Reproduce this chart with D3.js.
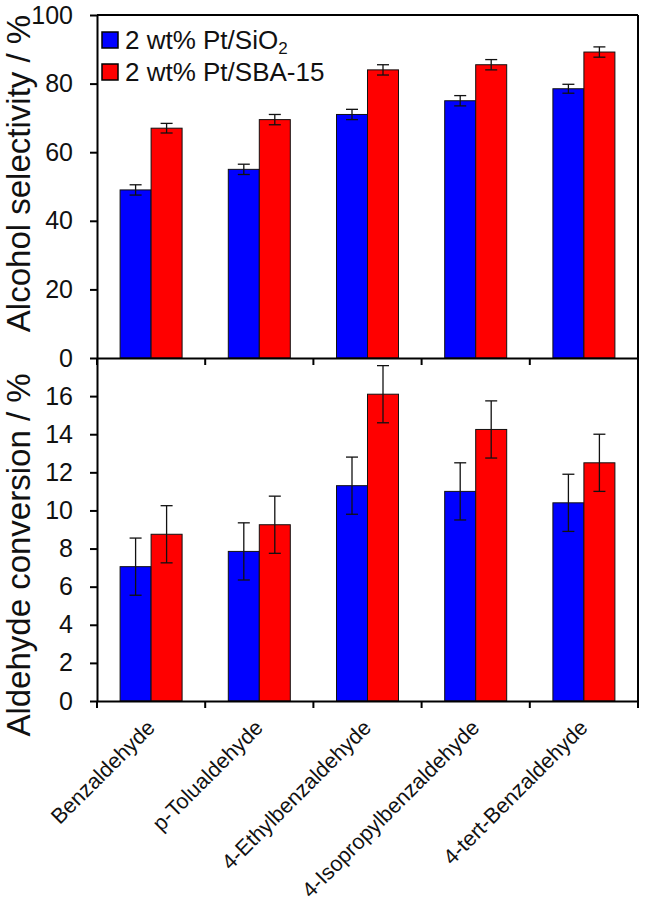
<!DOCTYPE html>
<html><head><meta charset="utf-8">
<script src="https://cdn.jsdelivr.net/npm/d3@7"></script>
<style>body{margin:0;background:#fff}svg{display:block;font-family:Arial,"Liberation Sans",sans-serif}</style>
</head><body>
<svg id="c" width="646" height="906"></svg>
<script>
const categories = ["Benzaldehyde","p-Tolualdehyde","4-Ethylbenzaldehyde","4-Isopropylbenzaldehyde","4-tert-Benzaldehyde"];
const seriesNames = ["2 wt% Pt/SiO2","2 wt% Pt/SBA-15"];
const selSiO2 = [49, 55, 71, 75, 78.5];
const selSiO2Err = [1.5, 1.5, 1.5, 1.5, 1.3];
const selSBA = [67, 69.5, 84, 85.5, 89.2];
const selSBAErr = [1.4, 1.5, 1.5, 1.5, 1.5];
const convSiO2 = [7.05, 7.85, 11.3, 11.0, 10.4];
const convSiO2Err = [1.5, 1.5, 1.5, 1.5, 1.5];
const convSBA = [8.75, 9.25, 16.1, 14.25, 12.5];
const convSBAErr = [1.5, 1.5, 1.5, 1.5, 1.5];
const selTicks = [0,20,40,60,80,100];
const convTicks = [0,2,4,6,8,10,12,14,16];
const colors = ["#0000ff","#ff0000"];

const svg = d3.select("#c");
const L = 97, R = 638;
const x = d3.scaleBand().domain(categories).range([L, R]).paddingInner(0).paddingOuter(0);
const barW = 31;
const yTop = d3.scaleLinear().domain([0,100]).range([358, 15]);
const yBot = d3.scaleLinear().domain([0,18]).range([701, 358]);

function panel(y, ticks, s1, e1, s2, e2, showTop) {
  const g = svg.append("g");
  const data = [[s1,e1],[s2,e2]];
  data.forEach((d, si) => {
    const gs = g.append("g");
    categories.forEach((c, i) => {
      const cx = x(c) + x.bandwidth()/2 + (si === 0 ? -barW : 0);
      gs.append("rect").attr("x", cx).attr("y", y(d[0][i]))
        .attr("width", barW).attr("height", y(0) - y(d[0][i]))
        .attr("fill", colors[si]).attr("stroke", "#111").attr("stroke-width", 1);
      const mx = cx + barW/2;
      const lo = y(d[0][i] - d[1][i]), hi = y(d[0][i] + d[1][i]);
      gs.append("line").attr("x1", mx).attr("x2", mx).attr("y1", lo).attr("y2", hi).attr("stroke", "#111").attr("stroke-width", 1.3);
      [lo, hi].forEach(v => gs.append("line").attr("x1", mx-6).attr("x2", mx+6).attr("y1", v).attr("y2", v).attr("stroke", "#111").attr("stroke-width", 1.3));
    });
  });
  // y axis
  const ya = g.append("g").attr("transform", `translate(${L},0)`)
    .call(d3.axisLeft(y).tickValues(ticks).tickSize(7).tickSizeOuter(0).tickPadding(17));
  ya.select(".domain").attr("stroke-width", 2);
  ya.selectAll(".tick line").attr("stroke-width", 2);
  ya.selectAll("text").attr("font-size", 25).attr("fill", "#111").attr("font-family", "Arial, 'Liberation Sans', sans-serif");
  // x axis
  const xa = g.append("g").attr("transform", `translate(0,${y(0)})`)
    .call(d3.axisBottom(x).tickValues([]).tickSizeOuter(0));
  xa.select(".domain").attr("stroke-width", 2);
  const bounds = categories.map(c => x(c)).concat([R]);
  xa.selectAll(".bt").data(bounds).enter().append("line")
    .attr("x1", d => d).attr("x2", d => d).attr("y1", 0).attr("y2", 7).attr("stroke", "#000").attr("stroke-width", 2);
  // frame right / top
  g.append("line").attr("x1", R).attr("x2", R).attr("y1", y.range()[1]).attr("y2", y.range()[0]).attr("stroke", "#000").attr("stroke-width", 2);
  if (showTop) g.append("line").attr("x1", L).attr("x2", R).attr("y1", y.range()[1]).attr("y2", y.range()[1]).attr("stroke", "#000").attr("stroke-width", 2);
}
panel(yBot, convTicks, convSiO2, convSiO2Err, convSBA, convSBAErr, false);
panel(yTop, selTicks, selSiO2, selSiO2Err, selSBA, selSBAErr, true);

// axis titles
svg.append("text").attr("transform", `translate(30,${(10+337)/2}) rotate(-90)`)
  .attr("text-anchor", "middle").attr("font-size", 33).attr("fill", "#111").text("Alcohol selectivity / %");
svg.append("text").attr("transform", `translate(30,${(372+738)/2}) rotate(-90)`)
  .attr("text-anchor", "middle").attr("font-size", 33).attr("fill", "#111").text("Aldehyde conversion / %");

// category labels
svg.append("g").selectAll("text").data(categories).enter().append("text")
  .attr("transform", d => `translate(${x(d) + x.bandwidth()/2 + 5},${yBot(0) + 28}) rotate(-45)`)
  .attr("text-anchor", "end").attr("font-size", 21.5).attr("fill", "#111").text(d => d);

// legend
const lg = svg.append("g");
seriesNames.forEach((n, i) => {
  const yy = 40 + i * 32;
  lg.append("rect").attr("x", 102).attr("y", yy - 8).attr("width", 16).attr("height", 16)
    .attr("fill", colors[i]).attr("stroke", "#000").attr("stroke-width", 1.5);
  const t = lg.append("text").attr("x", 125).attr("y", yy).attr("dy", "0.35em").attr("font-size", 26).attr("fill", "#111");
  if (n.endsWith("SiO2")) {
    t.append("tspan").text(n.slice(0, -1));
    t.append("tspan").attr("font-size", 17).attr("dy", "0.3em").text("2");
  } else t.text(n);
});
</script>
</body></html>
